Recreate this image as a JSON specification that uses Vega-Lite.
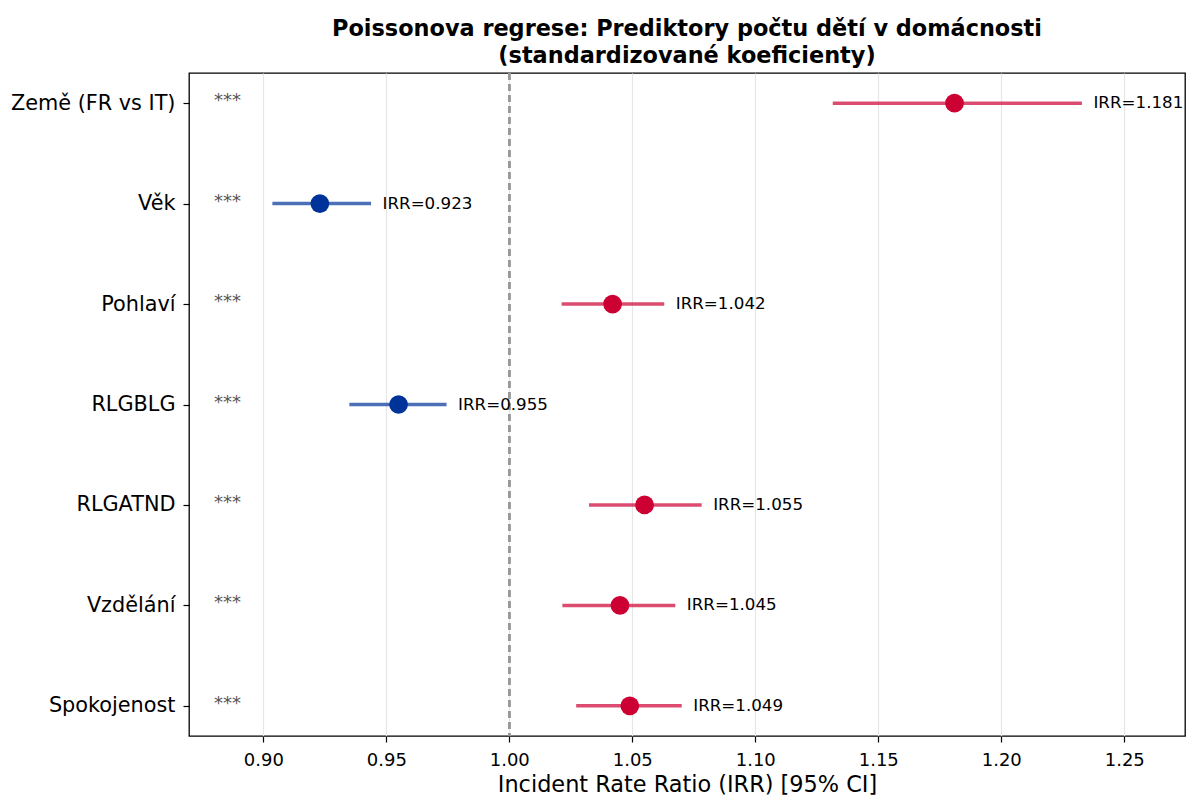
{
  "$schema": "https://vega.github.io/schema/vega-lite/v6.json",
  "autosize": {"type": "none"},
  "padding": {"left": 189, "top": 73, "right": 1, "bottom": 63},
  "width": 996,
  "height": 663,
  "config": {
    "font": "DejaVu Sans",
    "view": {"stroke": "black", "strokeWidth": 1.3},
    "background": "white"
  },
  "title": {
    "text": ["Poissonova regrese: Prediktory počtu dětí v domácnosti", "(standardizované koeficienty)"],
    "fontSize": 22.4,
    "fontWeight": "bold",
    "color": "black",
    "font": "DejaVu Sans",
    "anchor": "middle",
    "offset": 5,
    "lineHeight": 27
  },
  "data": {
    "values": [
      {"prediktor": "Země (FR vs IT)", "irr": 1.181, "lo": 1.1315, "hi": 1.2328, "smer": "pozitivní", "sig": "***", "popisek": "IRR=1.181"},
      {"prediktor": "Věk", "irr": 0.923, "lo": 0.9037, "hi": 0.9438, "smer": "negativní", "sig": "***", "popisek": "IRR=0.923"},
      {"prediktor": "Pohlaví", "irr": 1.042, "lo": 1.0213, "hi": 1.063, "smer": "pozitivní", "sig": "***", "popisek": "IRR=1.042"},
      {"prediktor": "RLGBLG", "irr": 0.955, "lo": 0.935, "hi": 0.9745, "smer": "negativní", "sig": "***", "popisek": "IRR=0.955"},
      {"prediktor": "RLGATND", "irr": 1.055, "lo": 1.0324, "hi": 1.0782, "smer": "pozitivní", "sig": "***", "popisek": "IRR=1.055"},
      {"prediktor": "Vzdělání", "irr": 1.045, "lo": 1.0216, "hi": 1.0675, "smer": "pozitivní", "sig": "***", "popisek": "IRR=1.045"},
      {"prediktor": "Spokojenost", "irr": 1.049, "lo": 1.0272, "hi": 1.0701, "smer": "pozitivní", "sig": "***", "popisek": "IRR=1.049"}
    ]
  },
  "encoding": {
    "y": {
      "field": "prediktor",
      "type": "nominal",
      "sort": null,
      "scale": {"type": "point", "padding": 0.3},
      "axis": {
        "title": null,
        "labelFontSize": 20.8,
        "labelColor": "black",
        "labelPadding": 8,
        "domain": false,
        "ticks": true,
        "tickColor": "black",
        "tickSize": 6,
        "tickWidth": 1.2,
        "grid": false
      }
    }
  },
  "layer": [
    {
      "mark": {"type": "rule", "color": "#999999", "strokeWidth": 2, "strokeDash": [7, 4]},
      "encoding": {
        "x": {
          "datum": 1,
          "type": "quantitative",
          "scale": {"domain": [0.8698, 1.2747], "nice": false, "zero": false},
          "axis": {
            "title": "Incident Rate Ratio (IRR) [95% CI]",
            "titleFontSize": 22.4,
            "titleFontWeight": "normal",
            "titleColor": "black",
            "titlePadding": 4,
            "values": [0.9, 0.95, 1.0, 1.05, 1.1, 1.15, 1.2, 1.25],
            "format": ".2f",
            "labelFontSize": 18,
            "labelColor": "black",
            "labelPadding": 9,
            "domain": false,
            "tickColor": "black",
            "tickSize": 6,
            "tickWidth": 1.2,
            "grid": true,
            "gridColor": "#e6e6e6",
            "gridWidth": 1.2
          }
        },
        "y": null
      }
    },
    {
      "mark": {"type": "rule", "strokeWidth": 3.5, "opacity": 0.7},
      "encoding": {
        "x": {"field": "lo", "type": "quantitative"},
        "x2": {"field": "hi"},
        "color": {
          "field": "smer",
          "type": "nominal",
          "scale": {"domain": ["pozitivní", "negativní"], "range": ["#cc0033", "#003399"]},
          "legend": null
        }
      }
    },
    {
      "mark": {"type": "circle", "size": 350, "opacity": 1},
      "encoding": {
        "x": {"field": "irr", "type": "quantitative"},
        "color": {"field": "smer", "type": "nominal", "legend": null}
      }
    },
    {
      "mark": {"type": "text", "align": "left", "baseline": "middle", "dx": 11.5, "fontSize": 16.7, "color": "black"},
      "encoding": {
        "x": {"field": "hi", "type": "quantitative"},
        "text": {"field": "popisek"}
      }
    },
    {
      "mark": {"type": "text", "align": "center", "baseline": "middle", "dy": -2, "fontSize": 18, "color": "#555555"},
      "encoding": {
        "x": {"datum": 0.8855, "type": "quantitative"},
        "text": {"field": "sig"}
      }
    }
  ]
}
